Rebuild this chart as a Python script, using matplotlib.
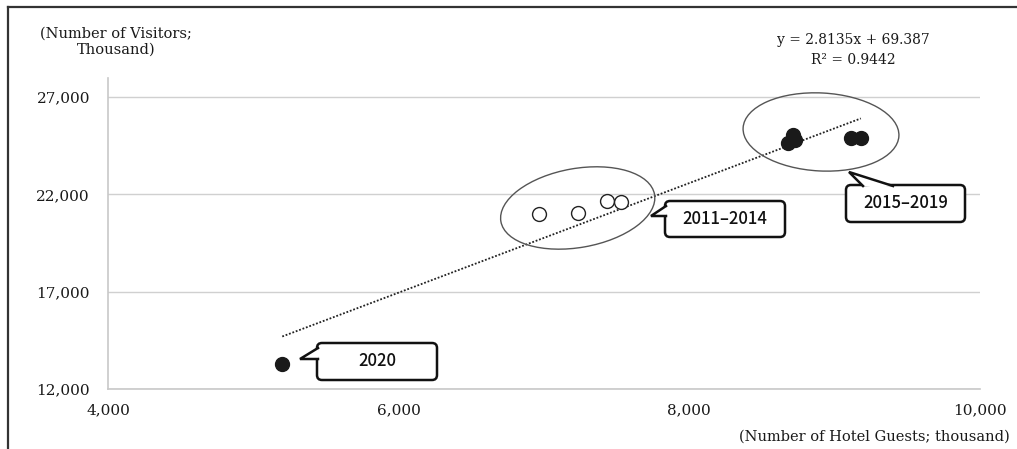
import matplotlib
matplotlib.use("Agg")
import matplotlib.pyplot as plt
import numpy as np
from matplotlib.patches import Ellipse, FancyBboxPatch, Polygon
from matplotlib.lines import Line2D
from matplotlib.transforms import Affine2D, ScaledTranslation, IdentityTransform

# ---------------- data ----------------
x_2011_2014 = [6964, 7232, 7431, 7533]
y_2011_2014 = [20990, 21041, 21657, 21606]
x_2015_2019 = [8714, 8679, 8727, 9111, 9180]
y_2015_2019 = [25048, 24637, 24791, 24894, 24894]
x_2020 = [5199]
y_2020 = [13284]
slope = 2.8135
intercept = 69.387
r2 = 0.9442
x_ticks = [4000, 6000, 8000, 10000]
y_ticks = [12000, 17000, 22000, 27000]
labels_groups = ["2011\u20132014", "2015\u20132019", "2020"]

W, H = 1017, 449
fig = plt.figure(figsize=(W / 100, H / 100), dpi=100)
fig.patch.set_facecolor("white")
ax = fig.add_axes([108 / W, 1 - 389 / H, (980 - 108) / W, (389 - 77.5) / H])

serif = "DejaVu Serif"
gothic = ["Noto Sans CJK JP", "DejaVu Sans"]
tcol = "#1a1a1a"

ax.set_xlim(4000, 10000)
ax.set_ylim(12000, 28000)
ax.set_xticks(x_ticks)
ax.set_yticks(y_ticks)
ax.set_xticklabels([f"{v:,}" for v in x_ticks], fontfamily=serif, fontsize=11, color=tcol)
ax.set_yticklabels([f"{v:,}" for v in y_ticks], fontfamily=serif, fontsize=11, color=tcol)
ax.tick_params(axis="both", length=0)
ax.tick_params(axis="y", pad=13)
ax.tick_params(axis="x", pad=10)
for s in ["top", "right"]:
    ax.spines[s].set_visible(False)
for s in ["left", "bottom"]:
    ax.spines[s].set_color("#c8c8c8")
    ax.spines[s].set_linewidth(1.2)
ax.yaxis.grid(True, color="#d0d0d0", linewidth=1.0)
ax.set_axisbelow(True)

# trend line
xs_all = x_2011_2014 + x_2015_2019 + x_2020
xl = np.array([min(xs_all), max(xs_all)])
ax.plot(xl, slope * xl + intercept, color="#222222", linestyle=(0, (1, 1)), linewidth=1.3, zorder=2)

# points
ax.plot(x_2011_2014, y_2011_2014, linestyle="none", marker="o", markersize=10,
        markerfacecolor="white", markeredgecolor="#222222", markeredgewidth=1.0, zorder=3)
ax.plot(x_2015_2019, y_2015_2019, linestyle="none", marker="o", markersize=10,
        markerfacecolor="#1a1a1a", markeredgecolor="#1a1a1a", zorder=3)
ax.plot(x_2020, y_2020, linestyle="none", marker="o", markersize=10,
        markerfacecolor="#1a1a1a", markeredgecolor="#1a1a1a", zorder=3)

# ellipses (sized in pixels, centred at data positions)
def ell(cx, cy, w, h, ang):
    tr = Affine2D() + ScaledTranslation(cx, cy, ax.transData)
    e = Ellipse((0, 0), w, h, angle=ang, transform=tr, facecolor="none",
                edgecolor="#555555", linewidth=1.0, zorder=4)
    ax.add_artist(e)

ell(7232, 21298, 156, 79, 10)
ell(8906, 25202, 156, 78, -3)

# callouts in pixel coordinates (top-left origin)
idt = IdentityTransform()
def P(x, y):
    return (x, H - y)

def callout(x0, y0, x1, y1, base1, tip, base2, inset, text):
    bx = FancyBboxPatch(P(x0, y1), x1 - x0, y1 - y0,
                        boxstyle="round,pad=0,rounding_size=5",
                        transform=idt, facecolor="white", edgecolor="#111111",
                        linewidth=1.8, zorder=5)
    fig.add_artist(bx)
    poly = Polygon([P(*inset[0]), P(*base1), P(*tip), P(*base2), P(*inset[1])],
                   closed=True, transform=idt, facecolor="white", edgecolor="none", zorder=6)
    fig.add_artist(poly)
    ln = Line2D([P(*base1)[0], P(*tip)[0], P(*base2)[0]],
                [P(*base1)[1], P(*tip)[1], P(*base2)[1]],
                transform=idt, color="#111111", linewidth=1.8, zorder=7,
                solid_joinstyle="miter")
    fig.add_artist(ln)
    fig.text((x0 + x1) / 2 / W, 1 - (y0 + y1) / 2 / H, text, ha="center", va="center",
             fontfamily=gothic, fontsize=12, fontweight="medium", color="#111111", zorder=8)

callout(665, 201, 785, 237, (666, 206), (651, 216), (666, 216),
        [(670, 216), (670, 206)], labels_groups[0])
callout(846, 185, 965, 222, (863, 186), (849, 172), (893, 186),
        [(893, 190), (863, 190)], labels_groups[1])
callout(317, 343, 437, 380, (318, 348), (300, 359), (318, 359),
        [(322, 359), (322, 348)], labels_groups[2])

# texts
fig.text(853 / W, 1 - 40 / H, f"y = {slope}x + {intercept}", ha="center", va="center",
         fontfamily=serif, fontsize=10, color=tcol)
fig.text(853 / W, 1 - 60 / H, f"R\u00b2 = {r2}", ha="center", va="center",
         fontfamily=serif, fontsize=10, color=tcol)
fig.text(116 / W, 1 - 42 / H, "(Number of Visitors;\nThousand)", ha="center", va="center",
         multialignment="center", linespacing=1.2, fontfamily=serif, fontsize=10.5, color=tcol)
fig.text(1010 / W, 1 - 437 / H, "(Number of Hotel Guests; thousand)", ha="right", va="center",
         fontfamily=serif, fontsize=10.5, color=tcol)

# outer frame (top and left)
fig.add_artist(Line2D([8, W], [H - 7, H - 7], transform=idt, color="#333333", linewidth=1.6))
fig.add_artist(Line2D([8, 8], [0, H - 7], transform=idt, color="#333333", linewidth=1.6))

fig.savefig("out.png", dpi=100)
